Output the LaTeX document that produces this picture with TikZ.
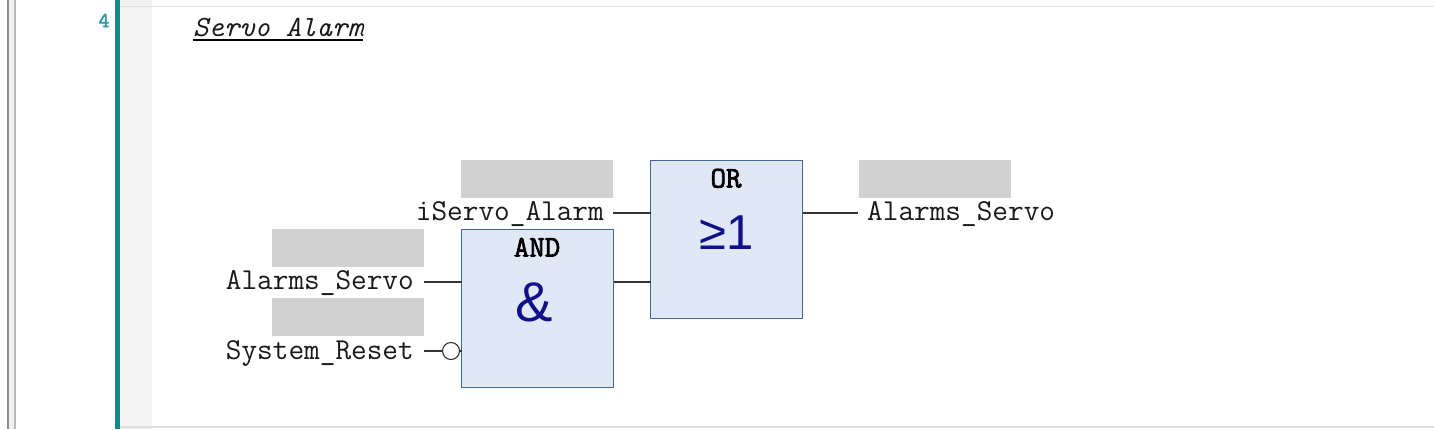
\documentclass[tikz,border=0pt]{standalone}
\usepackage{fontspec}
\setmainfont{Liberation Sans}
\newfontfamily\heavytt[FakeBold=2.4]{Latin Modern Mono}
\definecolor{teal1}{HTML}{0F8A8A}
\definecolor{numcol}{HTML}{2E9CA6}
\definecolor{gutter}{HTML}{F3F3F3}
\definecolor{sep}{HTML}{DEDEDE}
\definecolor{boxfill}{HTML}{E0E8F5}
\definecolor{boxline}{HTML}{3F689F}
\definecolor{mask}{HTML}{D2D2D2}
\definecolor{glyph}{HTML}{10108C}
\tikzset{
  x=1pt,y=-1pt,
  fb/.style={draw=boxline,fill=boxfill,line width=1.6pt,inner sep=0pt,outer sep=0pt,minimum width=152pt,minimum height=158pt},
  maskbox/.style={fill=mask,inner sep=0pt,outer sep=0pt,minimum width=151.5pt,minimum height=38pt},
  varname/.style={font=\ttfamily\fontsize{30.4}{30}\selectfont,inner sep=0pt,text=black!90},
  fbname/.style={font=\heavytt\fontsize{30}{30}\selectfont,inner sep=0pt,text=black},
  fbglyph/.style={font=\fontsize{56}{56}\selectfont,inner sep=0pt,text=glyph},
  wire/.style={line width=1.2pt,draw=black!80},
  negpin/.style={circle,draw=black!80,fill=white,line width=1.1pt,inner sep=0pt,outer sep=0pt,minimum size=17pt}
}
\begin{document}
\begin{tikzpicture}
\useasboundingbox (0,0) rectangle (1434,429);
\fill[white] (0,0) rectangle (1434,429);
% editor frame
\fill[gutter] (119,0) rectangle (152,429);
\fill[black!6] (8,0) rectangle (15,429);
\fill[black!45] (6.5,0) rectangle (9,429);
\fill[black!28] (14,0) rectangle (15.5,429);
\fill[sep] (118,5.5) rectangle (1434,7);
\fill[sep] (118,425.5) rectangle (1434,427.5);
\fill[teal1] (115,0) rectangle (119.5,429);
\node[anchor=base,inner sep=0pt,text=numcol,font=\heavytt\fontsize{21}{21}\selectfont] (netnum) at (104,27) {4};
\node[anchor=base west,inner sep=0pt,text=black!90,font=\ttfamily\itshape\fontsize{29.4}{30}\selectfont] (title) at (193,36) {Servo Alarm};
\draw[line width=1.3pt,black] (title.west |- 0,40) -- (title.east |- 0,40);
% masked address fields
\node[maskbox,anchor=north west] (m1) at (461,160) {};
\node[maskbox,anchor=north west] (m2) at (272,229) {};
\node[maskbox,anchor=north west] (m3) at (272,298) {};
\node[maskbox,anchor=north west] (m4) at (859,160) {};
% function blocks
\node[fb,anchor=north west] (andbox) at (461.5,229.5) {};
\node[fb,anchor=north west] (orbox) at (650.5,160.5) {};
\node[fbname,anchor=base] (andname) at (537,256.5) {AND};
\node[fbname,anchor=base] (orname) at (726,187.5) {OR};
\node[fbglyph,anchor=base] (andglyph) at (534,321) {\&};
\node[fbglyph,anchor=base,font=\fontsize{49}{49}\selectfont] (orglyph) at (727,249) {≥1};
% variable names
\node[varname,anchor=base east] (v1) at (604,220) {iServo\_Alarm};
\node[varname,anchor=base east] (v2) at (414,289) {Alarms\_Servo};
\node[varname,anchor=base east] (v3) at (414,359) {System\_Reset};
\node[varname,anchor=base west] (v4) at (867,220) {Alarms\_Servo};
% pin ends
\coordinate (p1) at (613,213);
\coordinate (p2) at (424,282);
\coordinate (p3) at (424,351);
\coordinate (p4) at (858,213);
\coordinate (p5) at (613,282);
\node[negpin] (neg) at (451,351) {};
\draw[wire] (p1) -- (orbox.west |- p1);
\draw[wire] (p2) -- (andbox.west |- p2);
\draw[wire] (p3) -- (neg.west);
\draw[wire] (neg.east) -- (andbox.west |- neg);
\draw[wire] (orbox.east |- p4) -- (p4);
\draw[wire] (andbox.east |- p5) -- (orbox.west |- p5);
\end{tikzpicture}
\end{document}
